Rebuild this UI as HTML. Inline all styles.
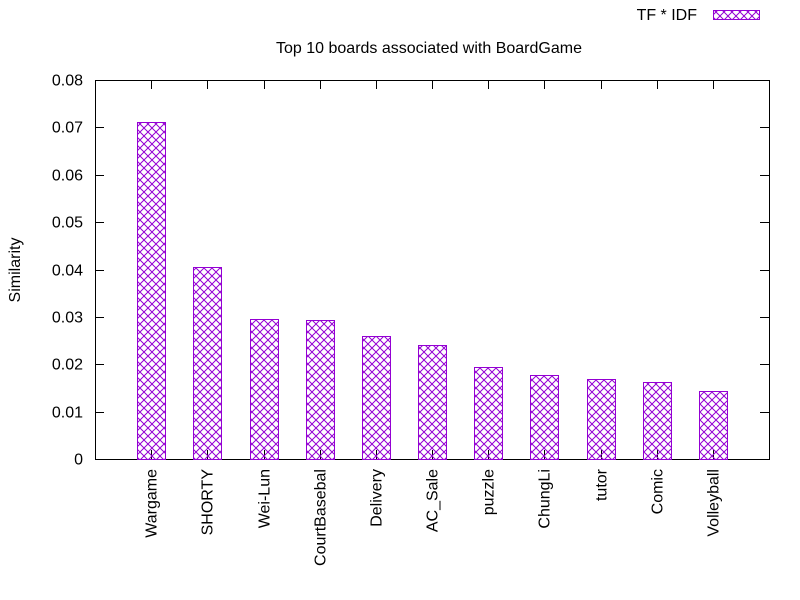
<!DOCTYPE html>
<html><head><meta charset="utf-8"><style>
body{margin:0;background:#fff}
svg{display:block;font-family:"Liberation Sans",sans-serif}
</style></head><body>
<svg id="chart" width="800" height="600">
<defs>
<pattern id="hatch" patternUnits="userSpaceOnUse" width="8" height="8">
<path d="M0,0L8,8M8,0L0,8" stroke="#9400d3" stroke-width="1" fill="none"/>
</pattern>
</defs>
<g id="axes"></g>
<g id="bars"></g>
<text x="429" y="53" font-size="16" text-anchor="middle">Top 10 boards associated with BoardGame</text>
<text transform="translate(20,270) rotate(-90)" font-size="16" text-anchor="middle">Similarity</text>
<g>
<text x="697" y="20" font-size="16" text-anchor="end">TF * IDF</text>
<rect x="713.5" y="10.5" width="46" height="9" fill="url(#hatch)" stroke="#9400d3"/>
</g>
</svg>
<script>
const categories=["Wargame","SHORTY","Wei-Lun","CourtBasebal","Delivery","AC_Sale","puzzle","ChungLi","tutor","Comic","Volleyball"];
const values=[0.0711,0.0405,0.0296,0.0293,0.026,0.0241,0.0194,0.0177,0.0169,0.0163,0.0144];
const yTicks=[0,0.01,0.02,0.03,0.04,0.05,0.06,0.07,0.08];
const yTickLabels=["0","0.01","0.02","0.03","0.04","0.05","0.06","0.07","0.08"];
const L=95,R=769,T=80,B=459,NS="http://www.w3.org/2000/svg";
const y=v=>B-(v/0.08)*(B-T);
const x=i=>L+(i+1)*(R-L)/(categories.length+1);
function mk(tag,attrs,parent){const e=document.createElementNS(NS,tag);for(const k in attrs)e.setAttribute(k,attrs[k]);parent.appendChild(e);return e;}
const ax=document.getElementById('axes'),bg=document.getElementById('bars');
const frame=mk('rect',{x:L+.5,y:T+.5,width:R-L,height:B-T,fill:'none',stroke:'#000'},ax);


yTicks.forEach((t,i)=>{
 const yy=Math.round(y(t))+.5;
 mk('line',{x1:L,x2:L+9,y1:yy,y2:yy,stroke:'#000'},ax);
 mk('line',{x1:R-9,x2:R,y1:yy,y2:yy,stroke:'#000'},ax);
 const tx=mk('text',{x:L-12,y:yy+5,'font-size':16,'text-anchor':'end'},ax);
 tx.textContent=yTickLabels[i];
 
 
});
categories.forEach((c,i)=>{
 const cx=Math.round(x(i))+.5;
 mk('line',{x1:cx,x2:cx,y1:B,y2:B-9,stroke:'#000'},ax);
 mk('line',{x1:cx,x2:cx,y1:T,y2:T+9,stroke:'#000'},ax);
 const r=mk('rect',{x:cx-14,y:Math.round(y(values[i]))+.5,width:28,height:B-Math.round(y(values[i])),fill:'url(#hatch)',stroke:'#9400d3'},bg);
 
 
 const tx=mk('text',{transform:`translate(${cx+5},469) rotate(-90)`,'font-size':16,'text-anchor':'end'},ax);
 tx.textContent=c;
 
 
});
</script>
</body></html>
